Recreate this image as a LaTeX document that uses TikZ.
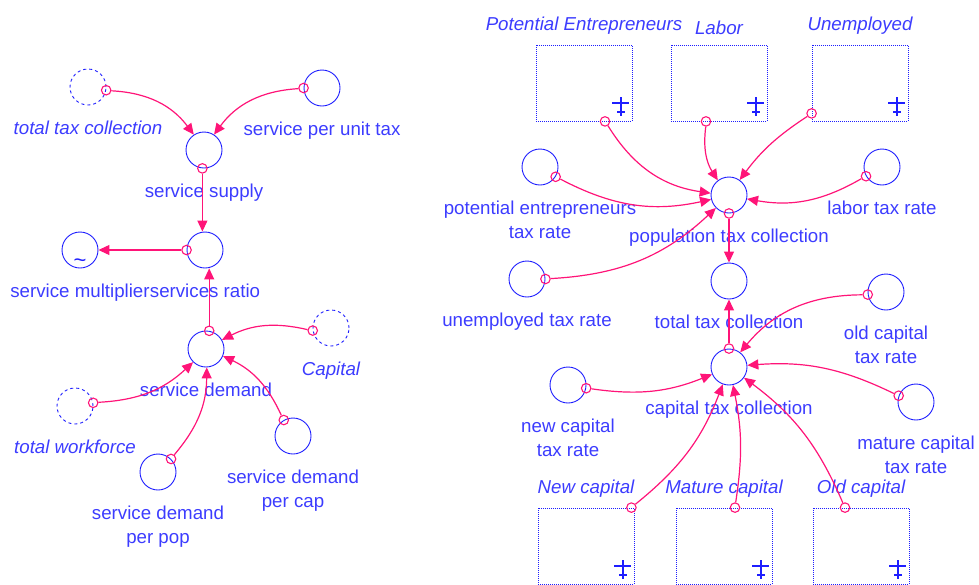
\documentclass[tikz,border=0pt]{standalone}
\usepackage{fontspec}
\setmainfont{Liberation Sans}
\usetikzlibrary{positioning,arrows}
\usetikzlibrary{arrows.meta}

\definecolor{vblue}{RGB}{30,30,255}
\definecolor{vtext}{RGB}{60,60,255}
\definecolor{vpink}{RGB}{255,20,120}

\tikzset{
  var/.style={circle,draw=vblue,line width=0.9pt,minimum size=36pt,inner sep=0pt},
  ghost/.style={var,dash pattern=on 3pt off 3pt},
  level/.style={rectangle,draw=vblue,line width=0.8pt,dash pattern=on 1pt off 1pt,minimum width=96pt,minimum height=76pt,inner sep=0pt},
  tag/.style={text=vtext,font=\fontsize{18.7}{24.5}\selectfont,inner sep=0pt,align=center,label distance=15pt},
  itag/.style={tag,font=\fontsize{18.7}{24.5}\selectfont\itshape},
  btag/.style={itag,label distance=10pt},
  orig/.style={circle,draw=vpink,line width=1.1pt,minimum size=9.5pt,inner sep=0pt},
  link/.style={draw=vpink,line width=1.2pt,-{Triangle[length=11pt,width=10pt]}}
}

\newcommand{\stockmark}[1]{
  \draw[vblue,line width=2pt] ([shift={(-11,-24)}]#1.south east) -- ([shift={(-11,-5)}]#1.south east);
  \draw[vblue,line width=2pt] ([shift={(-20,-18)}]#1.south east) -- ([shift={(-3,-18)}]#1.south east);
  \draw[vblue,line width=2pt] ([shift={(-15,-9)}]#1.south east) -- ([shift={(-7,-9)}]#1.south east);
}

\begin{document}
\begin{tikzpicture}[x=1pt,y=-1pt]
\useasboundingbox (0,0) rectangle (979,584);

% service sector
\node[ghost] (ttcg) at (88,87) [label={[itag]below:total tax collection}] {};
\node[var] (spu) at (322,88) [label={[tag]below:service per unit tax}] {};
\node[var] (ss) at (204,150) [label={[tag]below:service supply}] {};
\node[var] (sr) at (205,250) [label={[tag]below:services ratio}] {};
\node[var] (sm) at (80,250) [label={[tag]below:service multiplier}] {};
\node[text=vblue,font=\fontsize{22}{22}\selectfont,inner sep=0pt] (smt) at (80,263) {\textasciitilde};
\node[var] (sd) at (206,349) [label={[tag]below:service demand}] {};
\node[ghost] (capg) at (331,328) [label={[itag]below:Capital}] {};
\node[ghost] (twg) at (75,406) [label={[itag]below:total workforce}] {};
\node[var] (sdpp) at (158,472) [label={[tag]below:service demand\\per pop}] {};
\node[var] (sdpc) at (293,436) [label={[tag]below:service demand\\per cap}] {};

\node[orig] (ttcg-o) at (ttcg.-10) {};
\node[orig] (spu-o) at (spu.180) {};
\node[orig] (ss-o) at (ss.-95) {};
\node[orig] (sr-o) at (sr.180) {};
\node[orig] (sd-o) at (sd.80) {};
\node[orig] (capg-o) at (capg.-172) {};
\node[orig] (twg-o) at (twg.10) {};
\node[orig] (sdpp-o) at (sdpp.45) {};
\node[orig] (sdpc-o) at (sdpc.120) {};

\draw[link] (ttcg-o) to[bend left=25] (ss);
\draw[link] (spu-o) to[bend right=25] (ss);
\draw[link] (ss-o) -- (ss-o |- sr.north);
\draw[link] (sr-o) -- (sm);
\draw[link] (sd-o) -- (sd-o |- sr.south);
\draw[link] (capg-o) to[bend right=20] (sd);
\draw[link] (twg-o) to[bend right=20] (sd);
\draw[link] (sdpp-o) to[bend right=20] (sd);
\draw[link] (sdpc-o) to[bend right=20] (sd);

% tax collection
\node[level] (pe) at (584,83) [label={[btag]above:Potential Entrepreneurs}] {};
\node[level] (lab) at (719,83) [label={[btag]above:Labor}] {};
\node[level] (unemp) at (860,83) [label={[btag]above:Unemployed}] {};
\node[level] (nc) at (586,546) [label={[btag]above:New capital}] {};
\node[level] (mc) at (724,546) [label={[btag]above:Mature capital}] {};
\node[level] (oc) at (861,546) [label={[btag]above:Old capital}] {};
\stockmark{pe}
\stockmark{lab}
\stockmark{unemp}
\stockmark{nc}
\stockmark{mc}
\stockmark{oc}

\node[var] (ptc) at (729,195) [label={[tag]below:population tax collection}] {};
\node[var] (ttc) at (729,281) [label={[tag]below:total tax collection}] {};
\node[var] (ctc) at (729,367) [label={[tag]below:capital tax collection}] {};
\node[var] (petr) at (540,167) [label={[tag]below:potential entrepreneurs\\tax rate}] {};
\node[var] (ltr) at (882,167) [label={[tag]below:labor tax rate}] {};
\node[var] (utr) at (527,279) [label={[tag]below:unemployed tax rate}] {};
\node[var] (octr) at (886,292) [label={[tag]below:old capital\\tax rate}] {};
\node[var] (nctr) at (568,385) [label={[tag]below:new capital\\tax rate}] {};
\node[var] (mctr) at (916,402) [label={[tag]below:mature capital\\tax rate}] {};

\node[orig] (pe-o) at ([shift={(21,0)}]pe.south) {};
\node[orig] (lab-o) at ([shift={(-13,0)}]lab.south) {};
\node[orig] (unemp-o) at ([shift={(0,-8)}]unemp.south west) {};
\node[orig] (petr-o) at (petr.-32) {};
\node[orig] (ltr-o) at (ltr.-150) {};
\node[orig] (utr-o) at (utr.0) {};
\node[orig] (ptc-o) at (ptc.-90) {};
\node[orig] (ctc-o) at (ctc.90) {};
\node[orig] (octr-o) at (octr.-172) {};
\node[orig] (nctr-o) at (nctr.-10) {};
\node[orig] (mctr-o) at (mctr.160) {};
\node[orig] (nc-o) at ([shift={(-3,0)}]nc.north east) {};
\node[orig] (mc-o) at ([shift={(11,0)}]mc.north) {};
\node[orig] (oc-o) at ([shift={(-16,0)}]oc.north) {};

\draw[link] (pe-o) to[bend right=25] (ptc);
\draw[link] (lab-o) to[bend right=20] (ptc);
\draw[link] (unemp-o) to[bend right=10] (ptc);
\draw[link] (petr-o) to[bend right=20] (ptc);
\draw[link] (ltr-o) to[bend left=20] (ptc);
\draw[link] (utr-o) to[bend right=20] (ptc);
\draw[link] (ptc-o) -- (ttc);
\draw[link] (ctc-o) -- (ttc);
\draw[link] (octr-o) to[bend right=25] (ctc);
\draw[link] (mctr-o) to[bend right=15] (ctc);
\draw[link] (nctr-o) to[bend right=15] (ctc);
\draw[link] (nc-o) to[bend right=15] (ctc);
\draw[link] (mc-o) to[bend right=10] (ctc);
\draw[link] (oc-o) to[bend right=15] (ctc);
\end{tikzpicture}
\end{document}
